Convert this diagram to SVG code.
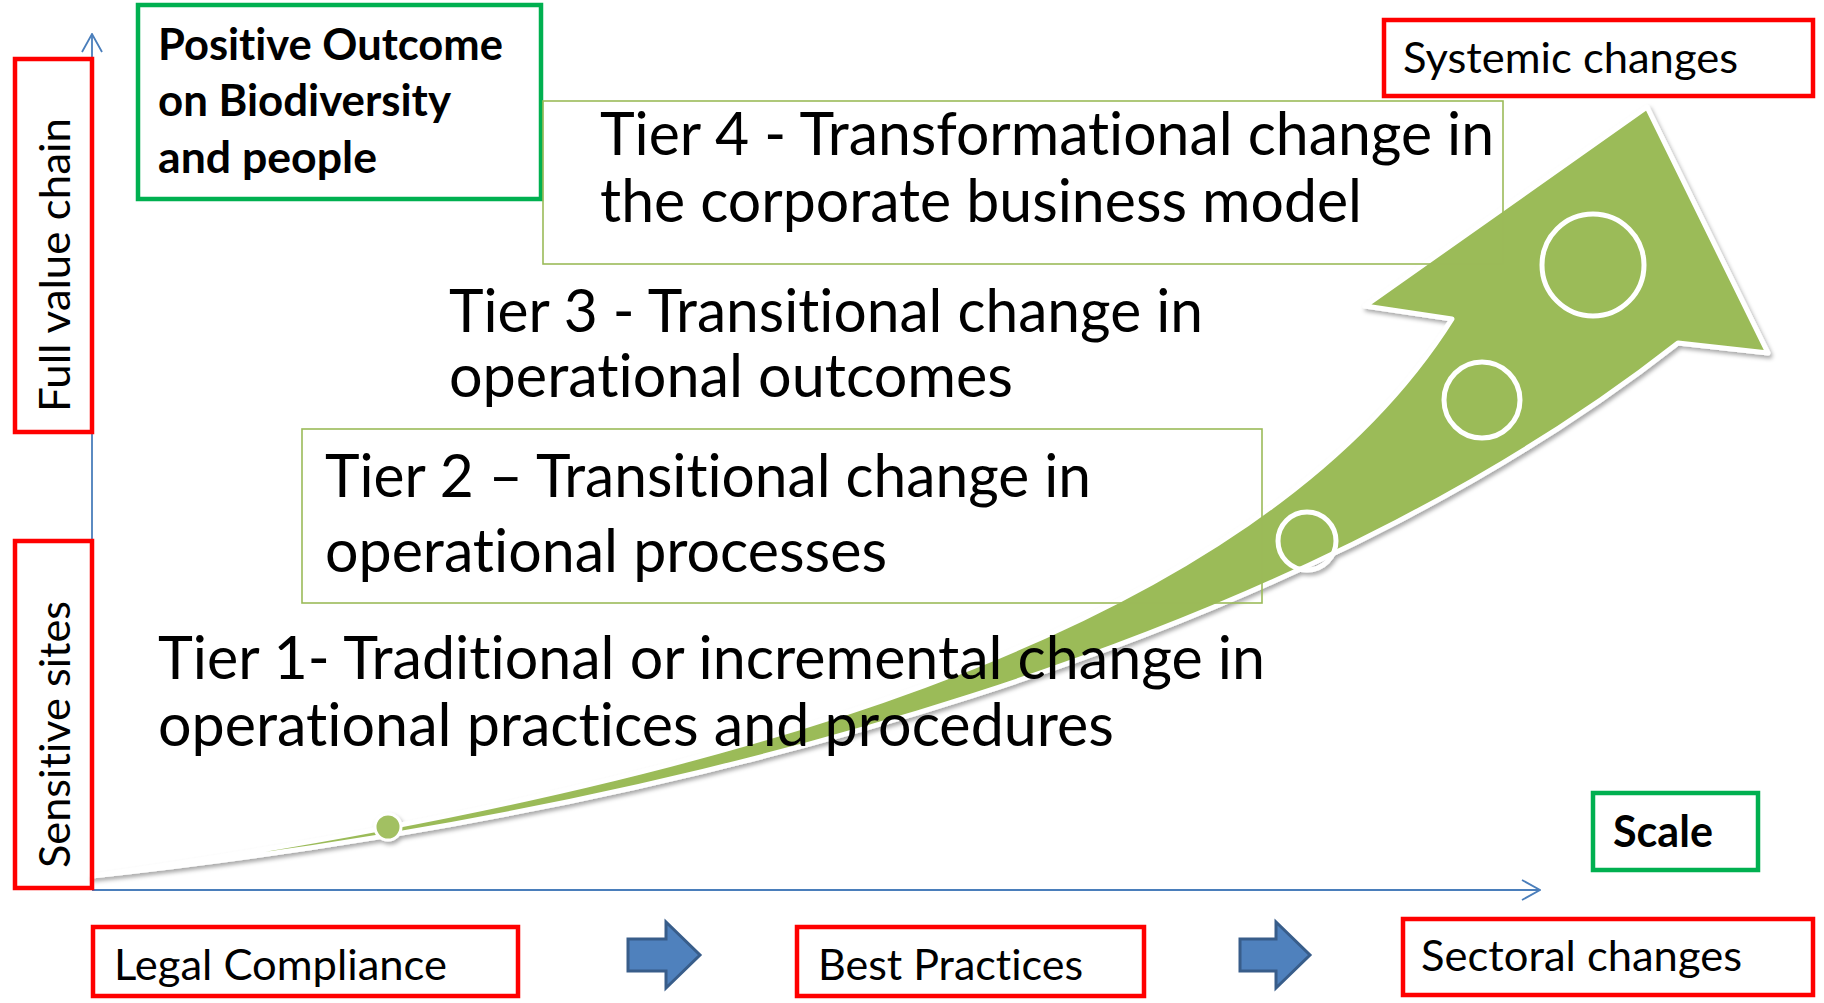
<svg xmlns="http://www.w3.org/2000/svg" width="1824" height="1003" viewBox="0 0 1824 1003">
<style>
  .t { font-family: Lato, 'Liberation Sans', sans-serif; font-size: 43px; fill: #000; font-variant-ligatures: none; }
  .b { font-weight: 700; }
  .tier { font-size: 60px; }
  .red { fill: none; stroke: #FF0000; stroke-width: 4.5; }
  .grn { fill: none; stroke: #00B050; stroke-width: 4.5; }
  .olive { fill: none; stroke: #9BBB59; stroke-width: 1.6; }
  .axis { fill: none; stroke: #4A7EBB; stroke-width: 1.8; }
  .blk { fill: #4F81BD; stroke: #385D8A; stroke-width: 3; stroke-linejoin: miter; }
  .body { fill: #9BBB59; stroke: #FFFFFF; stroke-width: 5; stroke-linejoin: round; }
  .ring { fill: none; stroke: #FFFFFF; stroke-width: 5; }
</style>
<defs>
  <marker id="open" viewBox="0 0 20 22" refX="19" refY="11" markerWidth="20" markerHeight="22" markerUnits="userSpaceOnUse" orient="auto">
    <path d="M1,1 L19,11 L1,21" fill="none" stroke="#4A7EBB" stroke-width="1.8"/>
  </marker>
  <filter id="shadow" x="-5%" y="-5%" width="110%" height="115%">
    <feDropShadow dx="2" dy="3" stdDeviation="2" flood-color="#000" flood-opacity="0.35"/>
  </filter>
</defs>
<rect width="1824" height="1003" fill="#FFFFFF"/>

<g id="connectors">
  <line class="axis" x1="92" y1="890" x2="92" y2="34" marker-end="url(#open)"/>
  <line class="axis" x1="92" y1="890" x2="1540" y2="890" marker-end="url(#open)"/>
  <polygon id="arrow-compliance-best" class="blk" points="628,939 666,939 666,922 700,955 666,988 666,971 628,971"/>
  <polygon id="arrow-best-sectoral" class="blk" points="1240,939 1276,939 1276,922 1310,955 1276,988 1276,971 1240,971"/>
</g>

<g id="growth-arrow" filter="url(#shadow)">
  <path class="body" d="M92,876 C700,810 1300,640 1678,343 L1768,353 L1647,107 L1365,306 L1452,319 C1250,640 700,790 92,876 Z"/>
  <circle class="ring" cx="1593" cy="265" r="51"/>
  <circle class="ring" cx="1482" cy="400" r="38"/>
  <circle class="ring" cx="1307" cy="541" r="29"/>
  <circle cx="388" cy="827" r="13" fill="#A2C062" stroke="#FFFFFF" stroke-width="3"/>
</g>

<g id="full-value-chain">
  <rect class="red" x="15" y="59" width="77" height="373"/>
  <text class="t" transform="translate(70,412) rotate(-90)" textLength="294" lengthAdjust="spacingAndGlyphs">Full value chain</text>
</g>

<g id="sensitive-sites">
  <rect class="red" x="15" y="541" width="77" height="347"/>
  <text class="t" transform="translate(70,868) rotate(-90)" textLength="267" lengthAdjust="spacingAndGlyphs">Sensitive sites</text>
</g>

<g id="positive-outcome">
  <rect class="grn" x="138" y="5" width="403" height="194"/>
  <text class="t b" x="158" y="60" textLength="345" lengthAdjust="spacingAndGlyphs">Positive Outcome</text>
  <text class="t b" x="158" y="116" textLength="293" lengthAdjust="spacingAndGlyphs">on Biodiversity</text>
  <text class="t b" x="158" y="173" textLength="219" lengthAdjust="spacingAndGlyphs">and people</text>
</g>

<g id="systemic-changes">
  <rect class="red" x="1384" y="20" width="429" height="76"/>
  <text class="t" x="1403" y="73" textLength="335" lengthAdjust="spacingAndGlyphs">Systemic changes</text>
</g>

<g id="tier4">
  <rect class="olive" x="543" y="101" width="960" height="163"/>
  <text class="t tier" x="600" y="155" textLength="894" lengthAdjust="spacingAndGlyphs">Tier 4 - Transformational change in</text>
  <text class="t tier" x="600" y="222" textLength="762" lengthAdjust="spacingAndGlyphs">the corporate business model</text>
</g>

<g id="tier3">
  <text class="t tier" x="449" y="332" textLength="754" lengthAdjust="spacingAndGlyphs">Tier 3 - Transitional change in</text>
  <text class="t tier" x="449" y="397" textLength="564" lengthAdjust="spacingAndGlyphs">operational outcomes</text>
</g>

<g id="tier2">
  <rect class="olive" x="302" y="429" width="960" height="174"/>
  <text class="t tier" x="325" y="497" textLength="766" lengthAdjust="spacingAndGlyphs">Tier 2 – Transitional change in</text>
  <text class="t tier" x="325" y="572" textLength="562" lengthAdjust="spacingAndGlyphs">operational processes</text>
</g>

<g id="tier1">
  <text class="t tier" x="158" y="679" textLength="1107" lengthAdjust="spacingAndGlyphs">Tier 1- Traditional or incremental change in</text>
  <text class="t tier" x="158" y="746" textLength="956" lengthAdjust="spacingAndGlyphs">operational practices and procedures</text>
</g>

<g id="scale">
  <rect class="grn" x="1593" y="793" width="165" height="77"/>
  <text class="t b" x="1613" y="847" textLength="100" lengthAdjust="spacingAndGlyphs">Scale</text>
</g>

<g id="legal-compliance">
  <rect class="red" x="93" y="927" width="425" height="69"/>
  <text class="t" x="114" y="980" textLength="333" lengthAdjust="spacingAndGlyphs">Legal Compliance</text>
</g>

<g id="best-practices">
  <rect class="red" x="797" y="927" width="347" height="69"/>
  <text class="t" x="818" y="980" textLength="265" lengthAdjust="spacingAndGlyphs">Best Practices</text>
</g>

<g id="sectoral-changes">
  <rect class="red" x="1403" y="919" width="410" height="76"/>
  <text class="t" x="1421" y="971" textLength="321" lengthAdjust="spacingAndGlyphs">Sectoral changes</text>
</g>
</svg>
